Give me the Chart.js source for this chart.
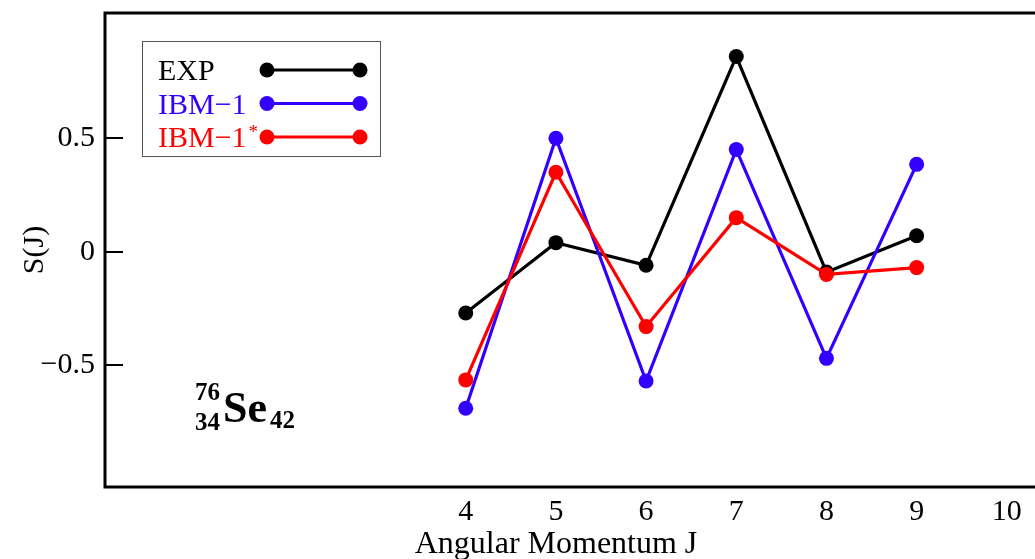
<!DOCTYPE html>
<html><head><meta charset="utf-8">
<script src="https://cdn.jsdelivr.net/npm/chart.js@4"></script>
<style>
html,body{margin:0;padding:0;overflow:hidden;background:#fff;width:1035px;height:559px}
#wrap{position:relative;width:1100px;height:559px}
</style>
</head><body><div id="wrap"><canvas id="c" width="1100" height="559"></canvas></div>
<script>
// ---- data ----
const J = [4, 5, 6, 7, 8, 9];
const expVals   = [-0.27, 0.04, -0.06, 0.86, -0.09, 0.07];
const ibm1Vals  = [-0.69, 0.50, -0.57, 0.45, -0.47, 0.385];
const ibm1sVals = [-0.565, 0.35, -0.33, 0.15, -0.10, -0.07];
const seriesLabels = ['EXP', 'IBM−1', 'IBM−1*'];
const xTickVals = [4, 5, 6, 7, 8, 9, 10];
const yTickVals = [-0.5, 0, 0.5];
const xTitle = 'Angular Momentum J';
const yTitle = 'S(J)';

const colors = ['#000000', '#3300ff', '#ff0000'];
const SERIF = '"Liberation Serif", "DejaVu Serif", serif';

function toPts(vals){ return J.map((j,i)=>({x:j, y:vals[i]})); }
const seriesVals = [expVals, ibm1Vals, ibm1sVals];

const datasets = seriesVals.map((vals, i) => ({
  label: seriesLabels[i],
  data: toPts(vals),
  borderColor: colors[i],
  backgroundColor: colors[i],
  borderWidth: 3.2,
  pointRadius: 7.5,
  pointBorderWidth: 0,
  pointHoverRadius: 7.5,
  pointBackgroundColor: colors[i],
  tension: 0,
  order: 3 - i
}));

const decor = {
  id: 'decor',
  afterDraw(chart){
    const ctx = chart.ctx;
    const a = chart.chartArea;
    const ys = chart.scales.y;
    ctx.save();
    // frame
    ctx.strokeStyle = '#000';
    ctx.lineWidth = 3;
    ctx.strokeRect(a.left, a.top, a.right - a.left + 10, a.bottom - a.top);
    // inner y ticks
    ctx.lineWidth = 2;
    yTickVals.forEach(v => {
      const y = Math.round(ys.getPixelForValue(v));
      ctx.beginPath();
      ctx.moveTo(a.left, y);
      ctx.lineTo(a.left + 18, y);
      ctx.stroke();
    });
    // x title (off-centre as in original)
    ctx.fillStyle = '#000';
    ctx.font = '32px ' + SERIF;
    ctx.textAlign = 'center';
    ctx.textBaseline = 'alphabetic';
    ctx.fillText(xTitle, 556, 553);

    // legend
    ctx.lineWidth = 1;
    ctx.strokeStyle = '#555';
    ctx.strokeRect(142.5, 41.5, 238, 115);
    const rowsY = [70, 103.5, 137];
    chart.data.datasets.forEach((ds, i) => {
      const y = rowsY[i];
      let label = ds.label;
      let star = false;
      if (label.endsWith('*')) { star = true; label = label.slice(0, -1); }
      ctx.fillStyle = ds.borderColor;
      ctx.font = '30px ' + SERIF;
      ctx.textAlign = 'left';
      ctx.textBaseline = 'alphabetic';
      ctx.fillText(label, 158, y + 10);
      if (star) {
        const w = ctx.measureText(label).width;
        ctx.font = '19px ' + SERIF;
        ctx.fillText('*', 158 + w + 2, y + 1);
      }
      ctx.strokeStyle = ds.borderColor;
      ctx.lineWidth = 3.2;
      ctx.beginPath();
      ctx.moveTo(267, y);
      ctx.lineTo(360, y);
      ctx.stroke();
      [267, 360].forEach(x => {
        ctx.beginPath();
        ctx.arc(x, y, 7.5, 0, Math.PI * 2);
        ctx.fill();
      });
    });

    // nucleus label
    ctx.fillStyle = '#000';
    ctx.textAlign = 'left';
    ctx.font = 'bold 25px ' + SERIF;
    ctx.fillText('76', 195, 400);
    ctx.fillText('34', 195, 430);
    ctx.font = 'bold 44px ' + SERIF;
    ctx.fillText('Se', 223, 422);
    ctx.font = 'bold 25px ' + SERIF;
    ctx.fillText('42', 270, 428);
    ctx.restore();
  }
};

function zeroPad(s){ s.paddingTop = 0; s.paddingBottom = 0; s.paddingLeft = 0; s.paddingRight = 0; }

new Chart(document.getElementById('c'), {
  type: 'line',
  data: { datasets },
  options: {
    responsive: false,
    animation: false,
    events: [],
    layout: { padding: { top: 13, left: 0, right: 0, bottom: 0 } },
    plugins: { legend: { display: false }, tooltip: { enabled: false } },
    scales: {
      x: {
        type: 'linear', min: 0, max: 10.95,
        afterBuildTicks: s => { s.ticks = xTickVals.map(v => ({ value: v })); },
        afterFit: s => { s.height = 72; zeroPad(s); },
        grid: { display: false, drawTicks: false },
        border: { display: false },
        ticks: { color: '#000', font: { family: SERIF, size: 30 }, padding: 7, maxRotation: 0, autoSkip: false }
      },
      y: {
        type: 'linear', min: -1.037, max: 1.052,
        afterBuildTicks: s => { s.ticks = yTickVals.map(v => ({ value: v })); },
        afterFit: s => { s.width = 105; zeroPad(s); },
        grid: { display: false, drawTicks: false },
        border: { display: false },
        ticks: {
          color: '#000', font: { family: SERIF, size: 30 }, padding: 10,
          callback: v => v < 0 ? '−' + Math.abs(v) : String(v)
        },
        title: { display: true, text: yTitle, color: '#000', font: { family: SERIF, size: 30 }, padding: { top: 17, bottom: 0 } }
      }
    }
  },
  plugins: [decor]
});
</script>
</body></html>
